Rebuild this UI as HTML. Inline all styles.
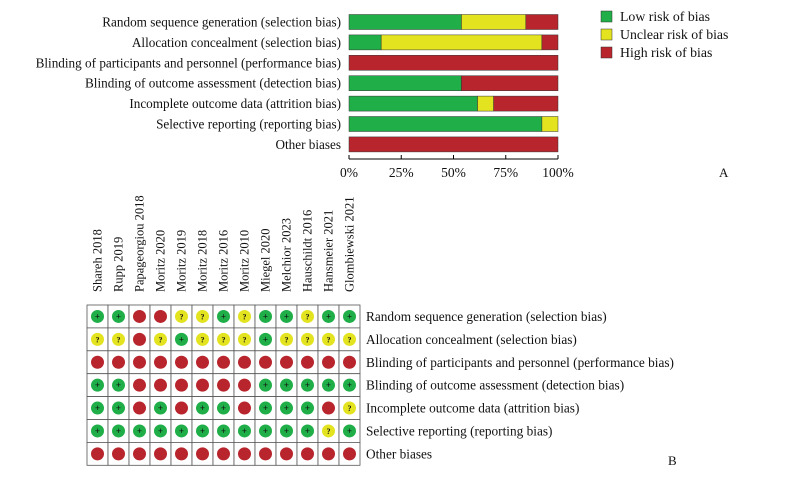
<!DOCTYPE html>
<html><head><meta charset="utf-8"><style>
body{margin:0;background:#fff;width:789px;height:477px;overflow:hidden}
svg text{font-family:"Liberation Serif",serif;fill:#111}
</style></head><body>
<svg id="c" width="789" height="477"></svg>
<script>
const domains=["Random sequence generation (selection bias)","Allocation concealment (selection bias)","Blinding of participants and personnel (performance bias)","Blinding of outcome assessment (detection bias)","Incomplete outcome data (attrition bias)","Selective reporting (reporting bias)","Other biases"];
const lowPct=[53.8,15.4,0,53.8,61.5,92.3,0];
const unclearPct=[30.8,76.9,0,0,7.7,7.7,0];
const highPct=[15.4,7.7,100,46.2,30.8,0,100];
const ticks=[0,25,50,75,100];
const studies=["Shareh 2018","Rupp 2019","Papageorgiou 2018","Moritz 2020","Moritz 2019","Moritz 2018","Moritz 2016","Moritz 2010","Miegel 2020","Melchior 2023","Hauschildt 2016","Hansmeier 2021","Glombiewski 2021"];
const judgements=["GGRRYYGYGGYGG","YYRYGYYYGYYYY","RRRRRRRRRRRRR","GGRRRRRRGGGGG","GGRGRGGRGGGRY","GGGGGGGGGGGYG","RRRRRRRRRRRRR"];
const C={G:"#1fae47",Y:"#e3e31f",R:"#b8252d"};
const NS="http://www.w3.org/2000/svg",svg=document.getElementById("c");
function mk(t,a,p){const e=document.createElementNS(NS,t);for(const k in a)e.setAttribute(k,a[k]);(p||svg).appendChild(e);return e;}
const x0=349,x1=558,xs=v=>x0+(x1-x0)*v/100,yc=i=>22+i*20.4;
domains.forEach((d,i)=>{
 let t=mk("text",{x:341,y:yc(i)+4.5,"text-anchor":"end","font-size":13.2});t.textContent=d;
 
 let s=0;[[lowPct,C.G],[unclearPct,C.Y],[highPct,C.R]].forEach(([arr,col])=>{
  const v=arr[i];if(v>0){const r=mk("rect",{x:xs(s),y:yc(i)-7.5,width:xs(s+v)-xs(s),height:15,fill:col,stroke:"#333","stroke-width":0.5});
  }s+=v;});
});
mk("line",{x1:x0,x2:x1,y1:159,y2:159,stroke:"#000"});
ticks.forEach(v=>{mk("line",{x1:xs(v),x2:xs(v),y1:155,y2:159,stroke:"#000"});
 const t=mk("text",{x:xs(v),y:177,"text-anchor":"middle","font-size":13.5});t.textContent=v+"%";
 });
[["Low risk of bias",C.G],["Unclear risk of bias",C.Y],["High risk of bias",C.R]].forEach(([l,c],i)=>{
 const r=mk("rect",{x:601,y:11+i*18,width:11,height:11,fill:c,stroke:"#333","stroke-width":0.5});
 
 const t=mk("text",{x:620,y:21+i*18,"font-size":13.8});t.textContent=l;
 });
let A=mk("text",{x:719,y:177,"font-size":13});A.textContent="A";

const gx=87,gy=305,cw=21,rh=22.9;
studies.forEach((s,j)=>{const cx=gx+cw*j+cw/2+4;
 const t=mk("text",{x:cx,y:292,"font-size":12.5,transform:`rotate(-90 ${cx} 292)`});t.textContent=s;
 });
judgements.forEach((row,i)=>{
 [...row].forEach((k,j)=>{const x=gx+cw*j,y=gy+rh*i;
  mk("rect",{x:x,y:y,width:cw,height:rh,fill:"#fff",stroke:"#555","stroke-width":0.8});
  const c=mk("circle",{cx:x+cw/2,cy:y+rh/2,r:6.5,fill:C[k]});
  
  if(k!="R"){const g=mk("text",{x:x+cw/2,y:y+rh/2+3,"text-anchor":"middle","font-size":k=="G"?9:8,"font-weight":"bold"});g.textContent=k=="G"?"+":"?";}
 });
 const t=mk("text",{x:366,y:gy+rh*i+rh/2+4.5,"font-size":13.3});t.textContent=domains[i];
 
});
let B=mk("text",{x:668,y:465,"font-size":13});B.textContent="B";

</script>
</body></html>
